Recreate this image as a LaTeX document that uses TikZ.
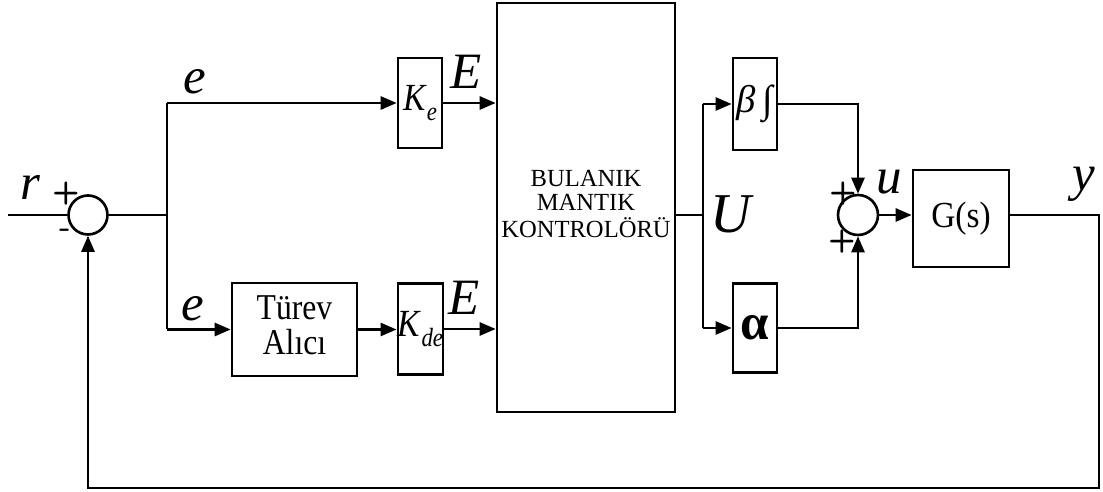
\documentclass[tikz,border=0pt]{standalone}
\usepackage{fontspec}
\setmainfont{Liberation Serif}
\usepackage{tikz}
\usetikzlibrary{positioning,arrows.meta}
\newcommand{\sublow}[1]{\raisebox{-0.6ex}{\fontsize{13}{13}\selectfont\textit{#1}}}
\newcommand{\tall}[2][1.15]{\scalebox{1}[#1]{#2}}
\newcommand{\lines}[1]{\begin{tabular}{@{}c@{}}#1\end{tabular}}

\begin{document}
\begin{tikzpicture}[x=0.02cm,y=-0.02cm,line width=1.5pt,
  blk/.style={draw,line width=1.5pt,inner sep=0pt,align=center},
  sumnode/.style={draw,circle,line width=1.5pt,inner sep=0pt},
  arr/.style={-{Triangle[length=3.2mm,width=2.6mm]}},
  var/.style={font=\fontsize{29}{30}\selectfont\itshape},
  sgn/.style={font=\fontsize{18}{18}\selectfont\sffamily\bfseries}]
\useasboundingbox (0,0) rectangle (1103,492);
% blocks
\node[sumnode,minimum size=0.78cm] (sum1) at (88,215) {};
\node[blk,minimum width=0.88cm,minimum height=1.8cm,font=\fontsize{19}{19}\selectfont] (ke) at (420,103) {\tall{\textit{K}\sublow{e}}};
\node[blk,minimum width=2.5cm,minimum height=1.86cm,font=\fontsize{18}{16}\selectfont] (turev) at (294.5,329.5) {\tall{\lines{Türev\\Alıcı}}};
\node[blk,minimum width=0.86cm,minimum height=1.82cm,font=\fontsize{19}{19}\selectfont] (kde) at (420.5,329) {\tall{\textit{K}\sublow{de}}};
\node[blk,minimum width=3.56cm,minimum height=8.18cm,font=\fontsize{14}{13.5}\selectfont] (flc) at (586,207.5) {\lines{BULANIK\\MANTIK\\KONTROLÖRÜ}};
\node[blk,minimum width=0.88cm,minimum height=1.84cm,font=\fontsize{22}{22}\selectfont] (beta) at (755,104) {\textit{β}\,∫};
\node[blk,minimum width=0.88cm,minimum height=1.78cm,font=\fontsize{29}{29}\selectfont\bfseries] (alpha) at (755,328) {α};
\node[sumnode,minimum size=0.8cm] (sum2) at (858,215) {};
\node[blk,minimum width=1.92cm,minimum height=1.94cm,font=\fontsize{19}{21}\selectfont] (gs) at (961,218.5) {\tall[1.1]{G(s)}};
% branch points
\coordinate (rin) at (8,215);
\coordinate (j1) at (167,215);
\coordinate (j1t) at (167,103);
\coordinate (j1b) at (167,329.5);
\coordinate (j2) at (703,215);
\coordinate (j2t) at (703,104);
\coordinate (j2b) at (703,328);
\coordinate (yc) at (1099,215);
\coordinate (fb) at (1099,488);
% connectors
\draw (rin) -- (sum1.west);
\draw (sum1.east) -- (j1);
\draw (j1t) -- (j1b);
\draw[arr] (j1t) -- (ke.west);
\draw[arr] (j1b) -- (turev.west);
\draw[arr] (turev.east) -- (turev.east -| kde.west);
\draw[arr] (ke.east) -- (ke.east -| flc.west);
\draw[arr] (kde.east) -- (kde.east -| flc.west);
\draw (flc.east |- j2) -- (j2);
\draw (j2t) -- (j2b);
\draw[arr] (j2t) -- (beta.west);
\draw[arr] (j2b) -- (alpha.west);
\draw[arr] (beta.east) -| (sum2.north);
\draw[arr] (alpha.east) -| (sum2.south);
\draw[arr] (sum2.east) -- (sum2.east -| gs.west);
\draw[arr] (gs.east |- yc) -- (yc) -- (fb) -| (sum1.south);
% labels
\node[var] (lr) at (30,188) {r};
\node[sgn] (p1) at (66,194) {+};
\node[sgn] (m1) at (65,233) {-};
\node[var] (le1) at (195,82) {e};
\node[var] (le2) at (193,309) {e};
\node[var] (lE1) at (466,72) {E};
\node[var] (lE2) at (464,298) {E};
\node[var,font=\fontsize{32}{33}\selectfont\itshape] (lU) at (731,214) {U};
\node[sgn] (p2) at (843,194) {+};
\node[sgn] (p3) at (842,242) {+};
\node[var] (lu) at (889,182) {u};
\node[var] (ly) at (1084,184) {y};
\end{tikzpicture}
\end{document}
